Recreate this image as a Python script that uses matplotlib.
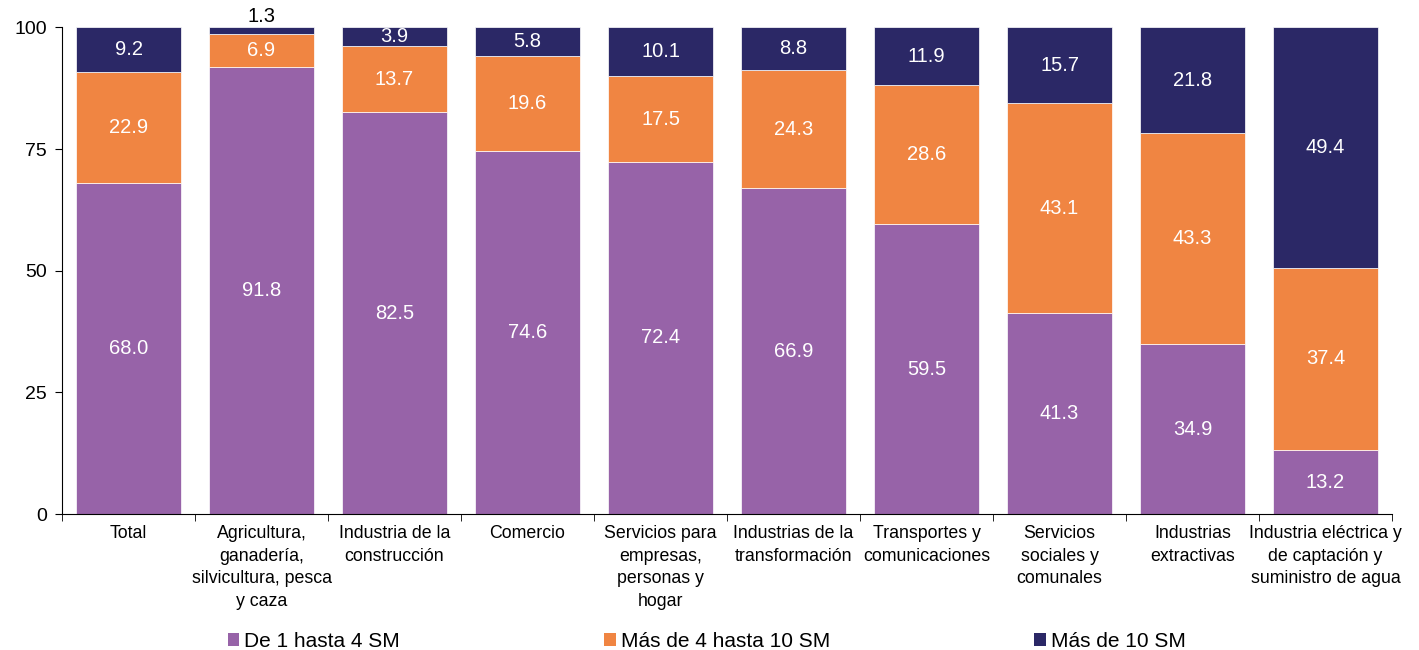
import numpy as np
import matplotlib.pyplot as plt
from matplotlib.patches import Patch

categories = [
    "Total",
    "Agricultura,\nganadería,\nsilvicultura, pesca\ny caza",
    "Industria de la\nconstrucción",
    "Comercio",
    "Servicios para\nempresas,\npersonas y\nhogar",
    "Industrias de la\ntransformación",
    "Transportes y\ncomunicaciones",
    "Servicios\nsociales y\ncomunales",
    "Industrias\nextractivas",
    "Industria eléctrica y\nde captación y\nsuministro de agua",
]
de_1_a_4 = [68.0, 91.8, 82.5, 74.6, 72.4, 66.9, 59.5, 41.3, 34.9, 13.2]
de_4_a_10 = [22.9, 6.9, 13.7, 19.6, 17.5, 24.3, 28.6, 43.1, 43.3, 37.4]
mas_de_10 = [9.2, 1.3, 3.9, 5.8, 10.1, 8.8, 11.9, 15.7, 21.8, 49.4]
series_names = ["De 1 hasta 4 SM", "Más de 4 hasta 10 SM", "Más de 10 SM"]
colors = ["#9763A8", "#F08542", "#2B2866"]

plt.rcParams['font.family'] = ['Liberation Sans', 'DejaVu Sans']

fig = plt.figure(figsize=(14.19, 6.5), dpi=100)
ax = fig.add_axes([0.0437, 0.209, 0.9373, 0.749])

x = np.arange(len(categories))
bottom = np.zeros(len(categories))
for vals, col in zip([de_1_a_4, de_4_a_10, mas_de_10], colors):
  vals = np.array(vals)
  ax.bar(x, vals, width=0.79, bottom=bottom, color=col,
         edgecolor='white', linewidth=0.5, clip_on=False)
  for xi, b, v in zip(x, bottom, vals):
    if v < 2:
      ax.text(xi, b + v + 0.2, f"{v:.1f}", ha='center', va='bottom',
              fontsize=14.5, color='black')
    else:
      ax.text(xi, b + v / 2, f"{v:.1f}", ha='center', va='center',
              fontsize=14.5, color='white')
  bottom = bottom + vals

ax.set_xlim(-0.5, len(categories) - 0.5)
ax.set_ylim(0, 100)
ax.set_yticks([0, 25, 50, 75, 100])
ax.tick_params(axis='y', labelsize=14, length=5, direction='out', pad=6)

ax.set_xticks(x)
ax.set_xticklabels(categories, fontsize=12.8, linespacing=1.42)
ax.tick_params(axis='x', which='major', length=0, pad=8)
ax.set_xticks(np.arange(len(categories) + 1) - 0.5, minor=True)
ax.tick_params(axis='x', which='minor', length=5, direction='out')

for s in ['top', 'right']:
  ax.spines[s].set_visible(False)

handles = [Patch(facecolor=c, edgecolor='none') for c in colors]
fig.legend(handles, series_names, loc='center', bbox_to_anchor=(0.498, 0.013),
           ncol=3, frameon=False, fontsize=15, handlelength=0.55,
           handleheight=0.55, handletextpad=0.25, columnspacing=9.8)

plt.savefig("out.png", dpi=100)
